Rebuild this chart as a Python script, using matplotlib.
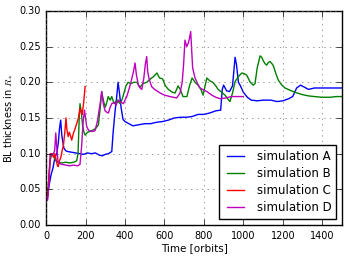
import matplotlib
matplotlib.use("Agg")
import matplotlib.pyplot as plt

# boundary layer thickness vs time
tA = [0, 5, 15, 25, 35, 45, 54, 62, 68, 74, 80, 90, 100, 110, 130, 150, 170, 190, 210, 230,
      250, 270, 285, 300, 316, 333, 340, 350, 358, 365, 372, 380, 390, 400, 420, 440, 460,
      480, 500, 530, 560, 590, 620, 650, 680, 710, 740, 770, 800, 830, 860, 885, 893, 900,
      915, 930, 945, 958, 965, 975, 985, 1000, 1020, 1040, 1070, 1100, 1140, 1170, 1200,
      1230, 1250, 1270, 1290, 1310, 1330, 1345, 1360, 1400, 1450, 1500]
simA = [0.035, 0.035, 0.055, 0.07, 0.08, 0.095, 0.10, 0.115, 0.135, 0.147, 0.125, 0.108,
        0.104, 0.103, 0.102, 0.101, 0.100, 0.099, 0.101, 0.100, 0.101, 0.098, 0.097, 0.099,
        0.100, 0.103, 0.13, 0.16, 0.18, 0.20, 0.185, 0.165, 0.148, 0.145, 0.142, 0.139,
        0.140, 0.141, 0.142, 0.142, 0.144, 0.145, 0.147, 0.150, 0.151, 0.151, 0.152, 0.155,
        0.155, 0.157, 0.160, 0.161, 0.19, 0.196, 0.188, 0.187, 0.195, 0.235, 0.225, 0.20,
        0.195, 0.186, 0.179, 0.175, 0.174, 0.175, 0.175, 0.173, 0.174, 0.177, 0.18, 0.192,
        0.196, 0.193, 0.190, 0.191, 0.192, 0.192, 0.192, 0.192]

tB = [0, 10, 20, 30, 40, 50, 60, 80, 100, 120, 140, 155, 162, 168, 172, 178, 185, 192, 198,
      210, 230, 250, 265, 275, 282, 290, 300, 307, 315, 325, 333, 345, 360, 375, 384, 395,
      405, 416, 430, 445, 460, 476, 490, 510, 530, 545, 562, 575, 590, 605, 620, 640, 654,
      669, 680, 694, 714, 727, 740, 755, 770, 785, 796, 806, 815, 830, 845, 860, 872, 890,
      907, 920, 932, 945, 958, 975, 992, 1005, 1017, 1035, 1050, 1059, 1070, 1085, 1093,
      1101, 1110, 1118, 1127, 1135, 1145, 1152, 1165, 1177, 1195, 1211, 1235, 1262, 1295,
      1328, 1360, 1397, 1440, 1470, 1500]
simB = [0.035, 0.05, 0.09, 0.10, 0.095, 0.09, 0.088, 0.087, 0.088, 0.087, 0.088, 0.09, 0.10,
        0.15, 0.17, 0.16, 0.14, 0.13, 0.126, 0.13, 0.132, 0.135, 0.14, 0.165, 0.187, 0.175,
        0.165, 0.171, 0.18, 0.175, 0.18, 0.17, 0.175, 0.17, 0.175, 0.185, 0.195, 0.2, 0.198,
        0.2, 0.2, 0.193, 0.198, 0.2, 0.205, 0.208, 0.213, 0.206, 0.205, 0.195, 0.19, 0.186,
        0.185, 0.195, 0.19, 0.18, 0.18, 0.195, 0.206, 0.2, 0.196, 0.19, 0.182, 0.195, 0.206,
        0.202, 0.2, 0.195, 0.19, 0.186, 0.182, 0.177, 0.173, 0.185, 0.201, 0.208, 0.213,
        0.212, 0.21, 0.2, 0.196, 0.198, 0.22, 0.237, 0.235, 0.23, 0.226, 0.224, 0.228, 0.229,
        0.226, 0.223, 0.212, 0.203, 0.196, 0.192, 0.189, 0.186, 0.183, 0.181, 0.18, 0.179,
        0.179, 0.18, 0.18]

tC = [0, 8, 15, 22, 30, 38, 45, 52, 58, 62, 68, 75, 82, 88, 95, 101, 105, 112, 118, 124,
      130, 138, 147, 155, 164, 172, 178, 183, 190, 198]
simC = [0.035, 0.04, 0.07, 0.10, 0.10, 0.095, 0.10, 0.09, 0.083, 0.082, 0.09, 0.095, 0.105,
        0.112, 0.13, 0.15, 0.135, 0.124, 0.13, 0.125, 0.119, 0.128, 0.135, 0.142, 0.15,
        0.164, 0.158, 0.155, 0.17, 0.194]

tD = [0, 8, 15, 22, 30, 38, 44, 49, 54, 60, 70, 80, 100, 120, 140, 160, 172, 180, 188, 195,
      200, 206, 215, 230, 248, 260, 274, 282, 290, 299, 308, 316, 325, 333, 345, 355, 366,
      380, 392, 400, 409, 420, 430, 443, 451, 458, 468, 477, 485, 495, 503, 510, 515, 522,
      535, 550, 578, 600, 628, 662, 679, 690, 697, 704, 713, 721, 727, 733, 738, 743, 755,
      768, 780, 800, 815, 840, 860, 882, 910, 940, 970, 1000]
simD = [0.035, 0.035, 0.06, 0.10, 0.098, 0.10, 0.105, 0.129, 0.11, 0.09, 0.086, 0.085,
        0.084, 0.083, 0.084, 0.083, 0.085, 0.11, 0.145, 0.161, 0.15, 0.138, 0.133, 0.131,
        0.132, 0.145, 0.17, 0.187, 0.17, 0.16, 0.158, 0.157, 0.165, 0.17, 0.172, 0.168,
        0.175, 0.172, 0.17, 0.175, 0.18, 0.19, 0.2, 0.215, 0.227, 0.21, 0.196, 0.192, 0.19,
        0.205, 0.225, 0.236, 0.215, 0.205, 0.194, 0.19, 0.185, 0.182, 0.18, 0.178, 0.185,
        0.2, 0.225, 0.259, 0.25, 0.255, 0.262, 0.271, 0.245, 0.22, 0.206, 0.198, 0.192,
        0.189, 0.187, 0.182, 0.179, 0.177, 0.178, 0.18, 0.18, 0.18]

xticks = [0, 200, 400, 600, 800, 1000, 1200, 1400]
yticks = [0.00, 0.05, 0.10, 0.15, 0.20, 0.25, 0.30]

plt.style.use('classic')
fig = plt.figure(figsize=(3.49, 2.59), dpi=100, facecolor='white')
ax = fig.add_axes([0.132, 0.131, 0.848, 0.827])

ax.plot(tA, simA, color='b', lw=1, label='simulation A')
ax.plot(tB, simB, color='g', lw=1, label='simulation B')
ax.plot(tC, simC, color='r', lw=1, label='simulation C')
ax.plot(tD, simD, color='m', lw=1, label='simulation D')

ax.set_xlim(0, 1500)
ax.set_ylim(0, 0.30)
ax.set_xticks(xticks)
ax.set_yticks(yticks)
ax.set_yticklabels(['%.2f' % v for v in yticks])
ax.tick_params(labelsize=7)
ax.grid(True, color='0.45')
ax.set_xlabel('Time [orbits]', fontsize=7.5, labelpad=2)
ax.set_ylabel('BL thickness in $R_*$', fontsize=7, labelpad=3)
ax.legend(loc='lower right', fontsize=8.5, frameon=True, fancybox=False,
          handlelength=2.0, labelspacing=0.35, borderaxespad=0.5)

fig.savefig('out.png', dpi=100, facecolor='white')
